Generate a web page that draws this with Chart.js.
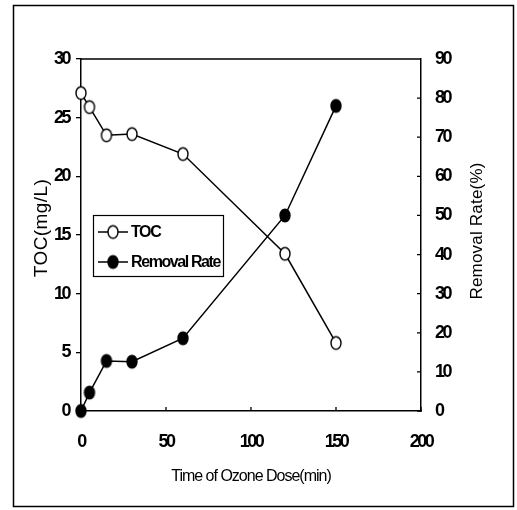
<!DOCTYPE html>
<html>
<head>
<meta charset="utf-8">
<script src="https://cdn.jsdelivr.net/npm/chart.js@4/dist/chart.umd.min.js"></script>
<style>
  body { margin: 0; background: #fff; }
  canvas { display: block; }
</style>
</head>
<body>
<canvas id="ozoneChart" width="517" height="510"></canvas>
<script>
// ozone dosing time (min)
const doseTimes = [0, 5, 15, 30, 60, 120, 150];
// total organic carbon left in the water (mg/L)
const tocValues = [27.1, 25.9, 23.5, 23.6, 21.9, 13.4, 5.8];
// TOC removal (%)
const removalValues = [0, 4.7, 12.8, 12.6, 18.6, 50, 78];

const seriesLabels = ['TOC', 'Removal Rate'];
const xTitle = 'Time of Ozone Dose(min)';
const leftTitle = 'TOC(mg/L)';
const rightTitle = 'Removal Rate(%)';

const FONT = "'Liberation Sans', Arial, sans-serif";
const tickFont = { family: FONT, size: 18, weight: 'bold' };

function ellipseMarker(filled) {
    const c = document.createElement('canvas');
    c.width = 14;
    c.height = 17;
    const g = c.getContext('2d');
    g.beginPath();
    g.ellipse(7, 8.5, 5, 6.3, 0, 0, Math.PI * 2);
    g.fillStyle = filled ? '#000' : '#fff';
    g.fill();
    g.lineWidth = 1.4;
    g.strokeStyle = '#000';
    g.stroke();
    return c;
}

const openMarker = ellipseMarker(false);
const solidMarker = ellipseMarker(true);

function drawText(ctx, text, x, y, font, spacing, angle, align) {
    ctx.save();
    ctx.font = font;
    ctx.letterSpacing = spacing;
    ctx.fillStyle = '#000';
    ctx.textAlign = align || 'center';
    ctx.textBaseline = 'middle';
    ctx.translate(x, y);
    if (angle) ctx.rotate(angle);
    ctx.fillText(text, 0, 0);
    ctx.restore();
}

// frame around the whole figure, box around the plot, inward ticks, axis titles, boxed legend
const decorations = {
    id: 'decorations',
    beforeDraw(chart) {
        // squeezed digits on the tick labels
        chart.ctx.letterSpacing = '-2.5px';
    },
    afterDraw(chart) {
        const ctx = chart.ctx;
        const area = chart.chartArea;
        const x = chart.scales.x;
        const y1 = chart.scales.y1;
        ctx.letterSpacing = '0px';
        ctx.save();
        ctx.strokeStyle = '#000';

        ctx.lineWidth = 1.5;
        ctx.strokeRect(13.5, 5.5, 500, 501);

        ctx.lineWidth = 1.3;
        ctx.beginPath();
        ctx.moveTo(area.left, area.top);
        ctx.lineTo(area.right, area.top);
        x.ticks.forEach(t => {
            const px = x.getPixelForValue(t.value);
            ctx.moveTo(px, area.bottom);
            ctx.lineTo(px, area.bottom - 4);
        });
        y1.ticks.forEach(t => {
            const py = y1.getPixelForValue(t.value);
            ctx.moveTo(area.right, py);
            ctx.lineTo(area.right - 4, py);
        });
        ctx.stroke();
        ctx.restore();

        drawText(ctx, xTitle, 251, 477, '16px ' + FONT, '-1px');
        drawText(ctx, leftTitle, 42, 228, '19px ' + FONT, '0.4px', -Math.PI / 2);
        drawText(ctx, rightTitle, 477, 231, '17px ' + FONT, '0.2px', -Math.PI / 2);

        // legend
        ctx.save();
        ctx.strokeStyle = '#000';
        ctx.lineWidth = 1.2;
        ctx.strokeRect(93.5, 215.5, 130, 61);
        const rows = [232, 262];
        chart.data.datasets.forEach((ds, i) => {
            const ly = rows[i];
            ctx.lineWidth = 1.5;
            ctx.beginPath();
            ctx.moveTo(98, ly);
            ctx.lineTo(128, ly);
            ctx.stroke();
            const img = ds.pointStyle;
            ctx.drawImage(img, 113 - img.width / 2, ly - img.height / 2);
            drawText(ctx, ds.label, 131, ly + 1, 'bold 16px ' + FONT, '-1.4px', 0, 'left');
        });
        ctx.restore();
    }
};

new Chart(document.getElementById('ozoneChart'), {
    type: 'line',
    data: {
        datasets: [{
            label: seriesLabels[0],
            data: doseTimes.map((t, i) => ({ x: t, y: tocValues[i] })),
            yAxisID: 'y',
            borderColor: '#000',
            borderWidth: 1.5,
            pointStyle: openMarker,
            pointRadius: 6,
            clip: 10
        }, {
            label: seriesLabels[1],
            data: doseTimes.map((t, i) => ({ x: t, y: removalValues[i] })),
            yAxisID: 'y1',
            borderColor: '#000',
            borderWidth: 1.5,
            pointStyle: solidMarker,
            pointRadius: 6,
            clip: 10
        }]
    },
    options: {
        responsive: false,
        animation: false,
        layout: { padding: { top: 59, left: 0, right: 0, bottom: 0 } },
        plugins: {
            legend: { display: false },
            tooltip: { enabled: false }
        },
        scales: {
            x: {
                type: 'linear',
                position: 'bottom',
                min: 0,
                max: 200,
                ticks: { stepSize: 50, color: '#000', font: tickFont, padding: 20 },
                grid: { drawOnChartArea: false, drawTicks: false },
                border: { color: '#000', width: 1.5 },
                afterFit(scale) { scale.height = 99; }
            },
            y: {
                position: 'left',
                min: 0,
                max: 30,
                ticks: { stepSize: 5, color: '#000', font: tickFont, padding: 7 },
                grid: { drawOnChartArea: false, tickLength: 5, color: '#000', lineWidth: 1.3 },
                border: { color: '#000', width: 1.5 },
                afterFit(scale) { scale.width = 81; }
            },
            y1: {
                position: 'right',
                min: 0,
                max: 90,
                ticks: { stepSize: 10, color: '#000', font: tickFont, padding: 14 },
                grid: { drawOnChartArea: false, drawTicks: false },
                border: { color: '#000', width: 1.5 },
                afterFit(scale) { scale.width = 96; }
            }
        }
    },
    plugins: [decorations]
});
</script>
</body>
</html>
